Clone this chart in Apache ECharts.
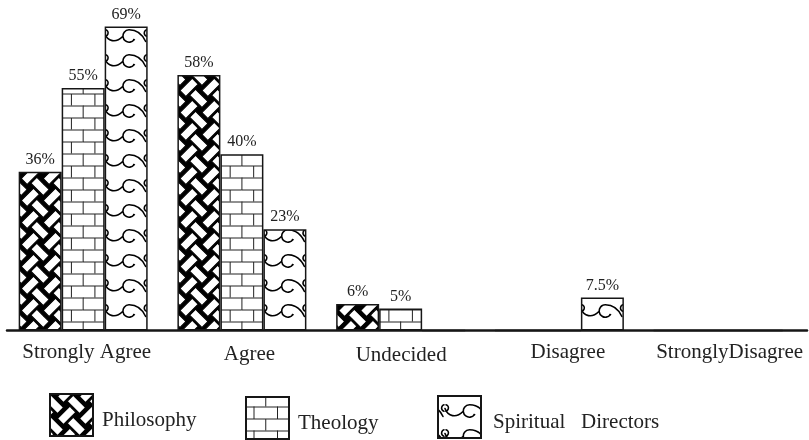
<!DOCTYPE html>
<html>
<head>
<meta charset="utf-8">
<script src="https://cdn.jsdelivr.net/npm/echarts@6/dist/echarts.min.js"></script>
<style>
    html, body { margin: 0; padding: 0; background: #fff; }
    #chart { width: 809px; height: 440px; }
</style>
</head>
<body>
<div id="chart"></div>
<script>
// values (percent of each group)
var categories = ['Strongly Agree', 'Agree', 'Undecided', 'Disagree', 'StronglyDisagree'];
var seriesNames = ['Philosophy', 'Theology', 'Spiritual   Directors'];
var philosophy = [36, 58, 6, 0, 0];
var theology = [55, 40, 5, 0, 0];
var spiritual = [69, 23, 0, 7.5, 0];

var FONT = 'Liberation Serif';
var INK = '#161616';

// plot box
var gridLeft = 3.8, gridRight = 11.5, gridTop = 22, gridBottom = 109.5;
var barW = 43;
var band = (809 - gridLeft - gridRight) / categories.length;

// --- fill motifs; each tile is baked with its own offset so it lines up with its bar ---
function drawWeave(ctx) {
    var c = 22 / Math.SQRT2, m = 3.6;
    ctx.rotate(Math.PI / 4);
    ctx.fillStyle = '#fff';
    ctx.strokeStyle = '#000';
    ctx.lineWidth = 1;
    for (var i = -3; i <= 3; i++) {
        for (var j = -3; j <= 3; j++) {
            var x, y, w, h;
            if (Math.abs(i + j) % 2 === 0) { x = i * c - m / 2; y = j * c + m; w = c + m / 2; h = c - 2 * m; }
            else { x = i * c + m; y = j * c - m / 2; w = c - 2 * m; h = c + m / 2; }
            ctx.fillRect(x, y, w, h);
            ctx.strokeRect(x, y, w, h);
        }
    }
}

function drawBrick(ctx) {
    ctx.strokeStyle = '#222';
    ctx.lineWidth = 1;
    ctx.beginPath();
    ctx.moveTo(0, 0.5); ctx.lineTo(47, 0.5);
    ctx.moveTo(0, 12.5); ctx.lineTo(47, 12.5);
    ctx.moveTo(0.5, 0); ctx.lineTo(0.5, 12.5);
    ctx.moveTo(24, 0); ctx.lineTo(24, 12.5);
    ctx.moveTo(12.25, 12.5); ctx.lineTo(12.25, 24);
    ctx.moveTo(35.75, 12.5); ctx.lineTo(35.75, 24);
    ctx.stroke();
}

function drawWave(ctx) {
    ctx.strokeStyle = '#000';
    ctx.lineWidth = 1.6;
    ctx.lineCap = 'round';
    ctx.beginPath();
    // trough rising into the curl
    ctx.moveTo(0, 5.5);
    ctx.bezierCurveTo(3, 13.5, 11, 15.5, 18, 8.5);
    // curl, open to the right
    ctx.moveTo(29, 11.5);
    ctx.arc(24.5, 8, 6.2, 0.65, -Math.PI / 2, false);
    // crest running down to the right edge
    ctx.bezierCurveTo(31.5, 1.8, 37, 5, 41, 13.5);
    ctx.stroke();
    // hook on the right edge (the left one is its wrap-around)
    ctx.beginPath();
    ctx.arc(43, 5, 3.4, Math.PI * 0.6, Math.PI * 1.4, false);
    ctx.stroke();
    ctx.beginPath();
    ctx.arc(0, 5, 3.4, -Math.PI * 0.4, Math.PI * 0.4, false);
    ctx.stroke();
}

var motifs = [
    { w: 22, h: 22, bg: '#000', draw: drawWeave, ox: 0, oy: 0 },
    { w: 47, h: 24, bg: '#fff', draw: drawBrick, ox: barW / 2 - 0.5, oy: 9.5 },
    { w: 43, h: 25, bg: '#fff', draw: drawWave, ox: 0, oy: 3 }
];

function tile(k, dx, dy) {
    var mo = motifs[k];
    var cv = document.createElement('canvas');
    cv.width = mo.w; cv.height = mo.h;
    var ctx = cv.getContext('2d');
    ctx.fillStyle = mo.bg;
    ctx.fillRect(0, 0, mo.w, mo.h);
    dx = ((dx % mo.w) + mo.w) % mo.w;
    dy = ((dy % mo.h) + mo.h) % mo.h;
    for (var a = -1; a <= 1; a++) {
        for (var b = -1; b <= 1; b++) {
            ctx.save();
            ctx.translate(dx + a * mo.w, dy + b * mo.h);
            mo.draw(ctx);
            ctx.restore();
        }
    }
    return { image: cv, repeat: 'repeat' };
}

var legendLeft = [49, 245, 437];
var legendTop = [393, 396, 395];
var legendTileY = [393, 396, 407];

function barSeries(k, values) {
    return {
        name: seriesNames[k],
        type: 'bar',
        barWidth: barW,
        barGap: '0%',
        itemStyle: {
            color: tile(k, legendLeft[k] + motifs[k].ox, k === 2 ? legendTileY[k] : motifs[k].oy),
            borderColor: INK,
            borderWidth: 1.5
        },
        data: values.map(function (v, i) {
            var left = gridLeft + (i + 0.5) * band - 1.5 * barW + k * barW;
            return { value: v, itemStyle: { color: tile(k, left + motifs[k].ox, motifs[k].oy) } };
        }),
        label: {
            show: true,
            position: 'top',
            distance: 4,
            fontFamily: FONT,
            fontSize: 16,
            color: '#222',
            formatter: function (p) { return p.value ? p.value + '%' : ''; }
        },
        emphasis: { disabled: true }
    };
}

function legendFor(k, padLeft) {
    return {
        data: [seriesNames[k]],
        left: legendLeft[k],
        top: legendTop[k],
        padding: 0,
        icon: 'rect',
        itemWidth: 43,
        itemHeight: 42,
        selectedMode: false,
        formatter: '{t|{name}}',
        textStyle: {
            fontFamily: FONT,
            fontSize: 21,
            color: '#222',
            rich: { t: { fontFamily: FONT, fontSize: 21, color: '#222', padding: [11, 0, 0, padLeft] } }
        }
    };
}

var chart = echarts.init(document.getElementById('chart'), null, { renderer: 'canvas' });
chart.setOption({
    animation: false,
    backgroundColor: '#fff',
    textStyle: { fontFamily: FONT },
    grid: [
        { left: gridLeft, right: gridRight, top: gridTop, bottom: gridBottom },
        { left: 7, right: 2, top: gridTop, bottom: gridBottom }
    ],
    legend: [legendFor(0, 4), legendFor(1, 4), legendFor(2, 7)],
    xAxis: [
        {
            type: 'category',
            data: categories,
            axisLine: { show: false },
            axisTick: { show: false },
            axisLabel: {
                interval: 0,
                margin: 11,
                fontFamily: FONT,
                fontSize: 21,
                color: '#222',
                formatter: function (v, i) { return '{c' + i + '|' + v + '}'; },
                rich: {
                    c0: { fontFamily: FONT, fontSize: 21, padding: [0, 0, 0, 7] },
                    c1: { fontFamily: FONT, fontSize: 21, padding: [2.4, 0, 0, 15] },
                    c2: { fontFamily: FONT, fontSize: 21, padding: [3.4, 0, 0, 1] },
                    c3: { fontFamily: FONT, fontSize: 21, padding: [0, 0, 0, 17] },
                    c4: { fontFamily: FONT, fontSize: 21, padding: [0, 0, 0, 23] }
                }
            }
        },
        {
            gridIndex: 1,
            type: 'value',
            min: 0,
            max: 1,
            axisLine: { show: true, onZero: false, lineStyle: { color: INK, width: 2.5 } },
            axisTick: { show: false },
            axisLabel: { show: false },
            splitLine: { show: false }
        }
    ],
    yAxis: [
        { type: 'value', min: 0, max: 70, show: false, splitLine: { show: false } },
        { gridIndex: 1, type: 'value', show: false, splitLine: { show: false } }
    ],
    series: [
        barSeries(0, philosophy),
        barSeries(1, theology),
        barSeries(2, spiritual)
    ]
});
</script>
</body>
</html>
